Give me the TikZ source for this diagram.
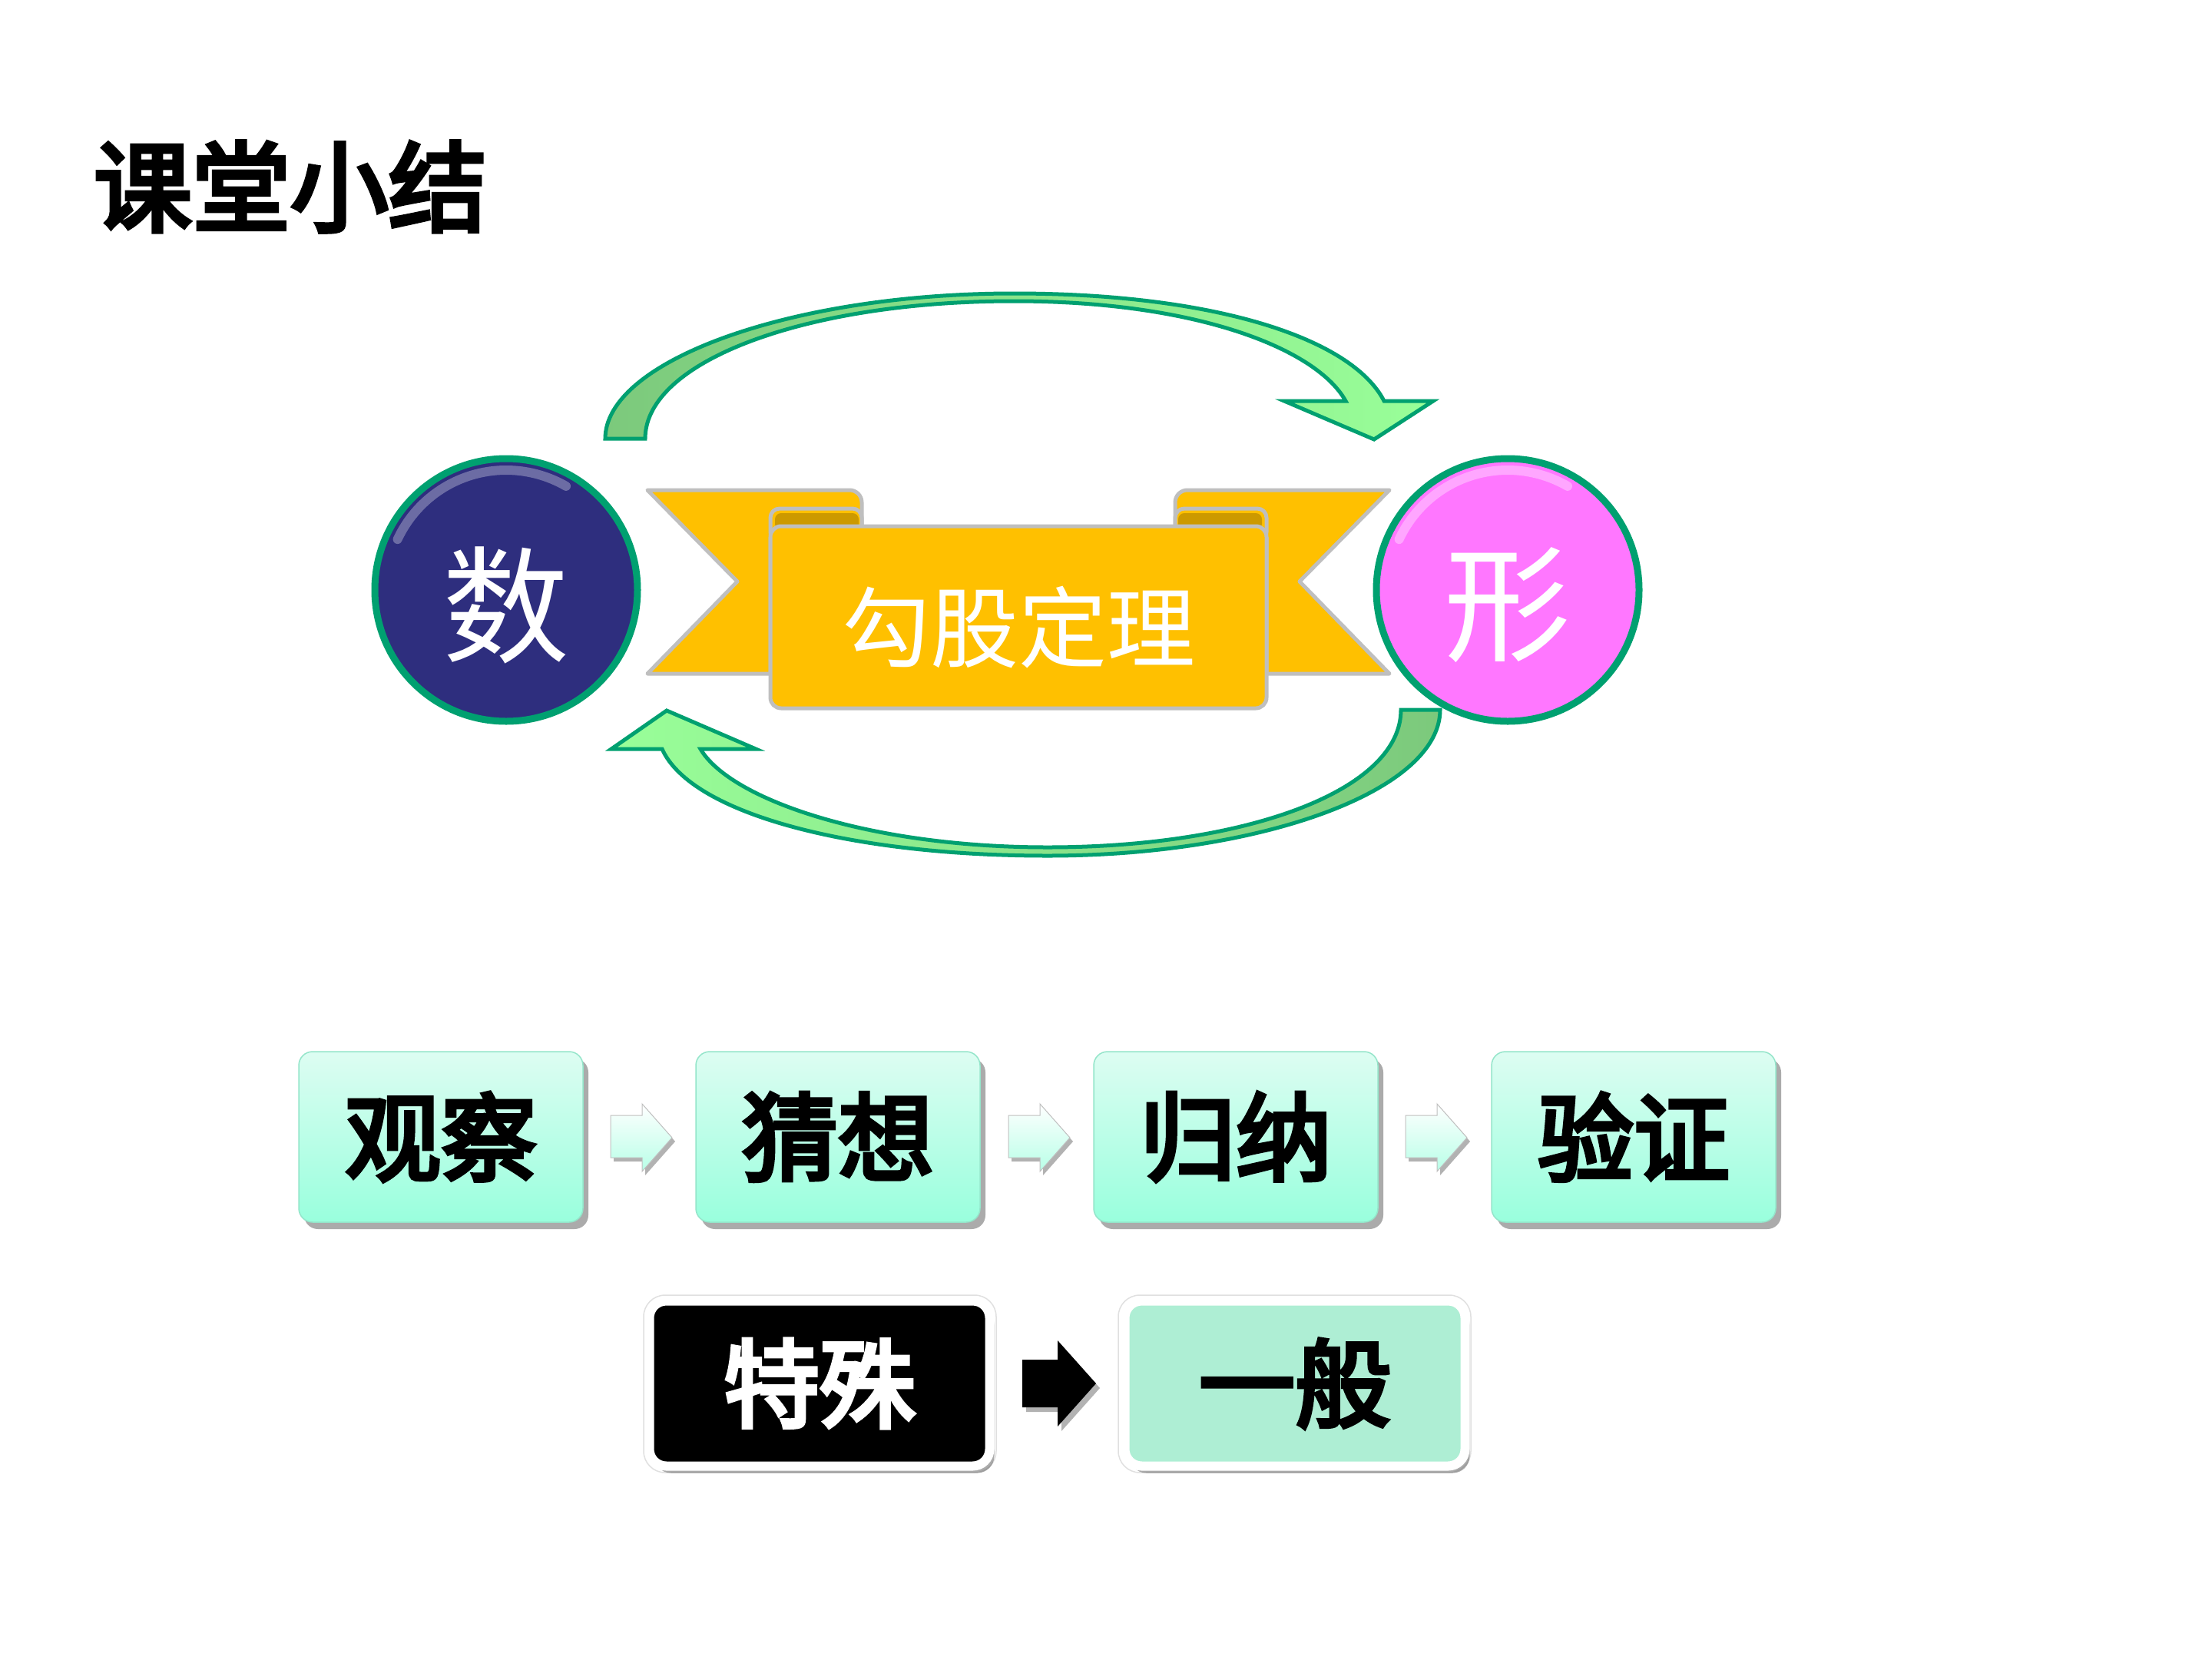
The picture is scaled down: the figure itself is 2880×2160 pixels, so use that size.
\documentclass[tikz,border=0pt]{standalone}
\usepackage{fontspec}
\newfontfamily\cjk{Noto Sans CJK SC}
\newfontfamily\cjkm[FakeBold=4.5]{Noto Sans CJK SC}
\usetikzlibrary{shadows}
\definecolor{navyc}{HTML}{2E2E7E}
\definecolor{pinkc}{HTML}{FF77FF}
\definecolor{tealg}{HTML}{00A070}
\definecolor{bannery}{HTML}{FFC000}
\definecolor{bannerd}{HTML}{CC9900}
\definecolor{bgray}{HTML}{BFBFBF}
\definecolor{lgreen}{HTML}{99FF99}
\definecolor{dgreen}{HTML}{7CC97C}
\definecolor{mintA}{HTML}{DDFDF2}
\definecolor{mintB}{HTML}{99FFDD}
\definecolor{mintC}{HTML}{AEEED4}
\tikzset{
  ribbon/.style={fill=bannery, draw=bgray, line width=5pt, line join=round},
  bigarrow/.style={draw=tealg, line width=5pt, line join=miter},
  ball/.style={circle, minimum size=342pt, inner sep=0pt, draw=tealg, line width=9pt},
  balltext/.style={text=white, inner sep=0pt, font=\cjk\fontsize{165pt}{190pt}\selectfont},
  boxfont/.style={font=\cjkm\fontsize{125pt}{150pt}\selectfont},
  stepbox/.style={rectangle, rounded corners=18pt, minimum width=370pt, minimum height=222pt,
    top color=mintA, bottom color=mintB, draw=mintB!80!gray, line width=1.5pt,
    drop shadow={shadow xshift=7pt, shadow yshift=-9pt, fill=black!60, opacity=0.55},
    inner sep=0pt, boxfont},
  bigbox/.style={rectangle, rounded corners=22pt, minimum width=443pt, minimum height=215pt,
    draw=white, line width=12pt,
    drop shadow={shadow xshift=6pt, shadow yshift=-9pt, fill=black!60, opacity=0.55},
    inner sep=0pt, boxfont},
  halo/.style={draw=black!12, line width=1.5pt, rounded corners=28pt},
  smallarrow/.style={top color=white, bottom color=mintB!70!white, draw=black!25, line width=1pt,
    drop shadow={shadow xshift=4pt, shadow yshift=-5pt, fill=black!60, opacity=0.5}},
}
\begin{document}
\begin{tikzpicture}[x=1pt, y=-1pt]
\useasboundingbox (0,0) rectangle (2880,2160);
\fill[white] (0,0) rectangle (2880,2160);

% title
\node[inner sep=0pt, font=\cjkm\fontsize{128pt}{150pt}\selectfont] (title) at (378,243) {课堂小结};

% big curved arrows
\path[bigarrow, left color=dgreen, right color=lgreen]
  (788,571) .. controls (788,470) and (1030,382) .. (1320,382)
  .. controls (1580,382) and (1760,440) .. (1802,522)
  -- (1866,522) -- (1789,572) -- (1672,522) -- (1752,522)
  .. controls (1715,455) and (1560,392) .. (1320,392)
  .. controls (1050,392) and (840,470) .. (840,571) -- cycle;
\path[bigarrow, left color=lgreen, right color=dgreen]
  (1875,924) .. controls (1875,1030) and (1640,1114) .. (1364,1114)
  .. controls (1110,1114) and (900,1060) .. (862,975)
  -- (796,975) -- (868,925) -- (984,975) -- (912,975)
  .. controls (950,1040) and (1130,1103) .. (1364,1103)
  .. controls (1620,1103) and (1824,1030) .. (1824,924) -- cycle;

% banner
\draw[ribbon] (843,638) [rounded corners=16pt] -- (1122,638) -- (1122,700) [sharp corners] -- (1003,700) -- (1003,877) -- (843,877) -- (960,757) -- cycle;
\draw[ribbon] (1809,638) [rounded corners=16pt] -- (1530,638) -- (1530,700) [sharp corners] -- (1649,700) -- (1649,877) -- (1809,877) -- (1692,757) -- cycle;
\draw[ribbon, rounded corners=12pt] (1003,662) rectangle (1122,705);
\fill[bannerd, rounded corners=8pt] (1009,668) rectangle (1118,690);
\draw[ribbon, rounded corners=12pt] (1530,662) rectangle (1649,705);
\fill[bannerd, rounded corners=8pt] (1534,668) rectangle (1643,690);
\draw[ribbon, rounded corners=14pt] (1003,685) rectangle (1649,922);
\node[inner sep=0pt, text=white, font=\cjk\fontsize{115pt}{140pt}\selectfont] (thm) at (1326,817) {勾股定理};

% circles
\node[ball, fill=navyc] (shu) at (659,768) {};
\draw[navyc!40!white, opacity=0.5, line width=12pt, line cap=round] (shu.center) ++(205:156) arc[start angle=205, end angle=300, radius=156];
\node[balltext] (shuT) at (659,788) {数};
\node[ball, fill=pinkc] (xing) at (1963,768) {};
\draw[white, opacity=0.35, line width=12pt, line cap=round] (xing.center) ++(205:156) arc[start angle=205, end angle=300, radius=156];
\node[balltext] (xingT) at (1963,788) {形};

% step boxes
\node[stepbox] (b1) at (574,1480) {观察};
\node[stepbox] (b2) at (1091,1480) {猜想};
\node[stepbox] (b3) at (1609,1480) {归纳};
\node[stepbox] (b4) at (2127,1480) {验证};
\foreach \x in {795,1313,1830}{
  \path[smallarrow] (\x,1452) -- ++(41,0) -- ++(0,-15) -- ++(39,44) -- ++(-39,44) -- ++(0,-18) -- ++(-41,0) -- cycle;
}

% bottom row
\draw[halo] (838,1686) rectangle (1297,1917);
\draw[halo] (1456,1686) rectangle (1915,1917);
\node[bigbox, fill=black, text=white] (te) at (1067,1801) {特殊};
\node[bigbox, fill=mintC, text=black] (yb) at (1686,1801) {一般};
\path[fill=black, drop shadow={shadow xshift=5pt, shadow yshift=-6pt, fill=black!60, opacity=0.5}]
  (1331,1770) -- (1377,1770) -- (1377,1745) -- (1427,1801) -- (1377,1857) -- (1377,1832) -- (1331,1832) -- cycle;
\end{tikzpicture}
\end{document}
